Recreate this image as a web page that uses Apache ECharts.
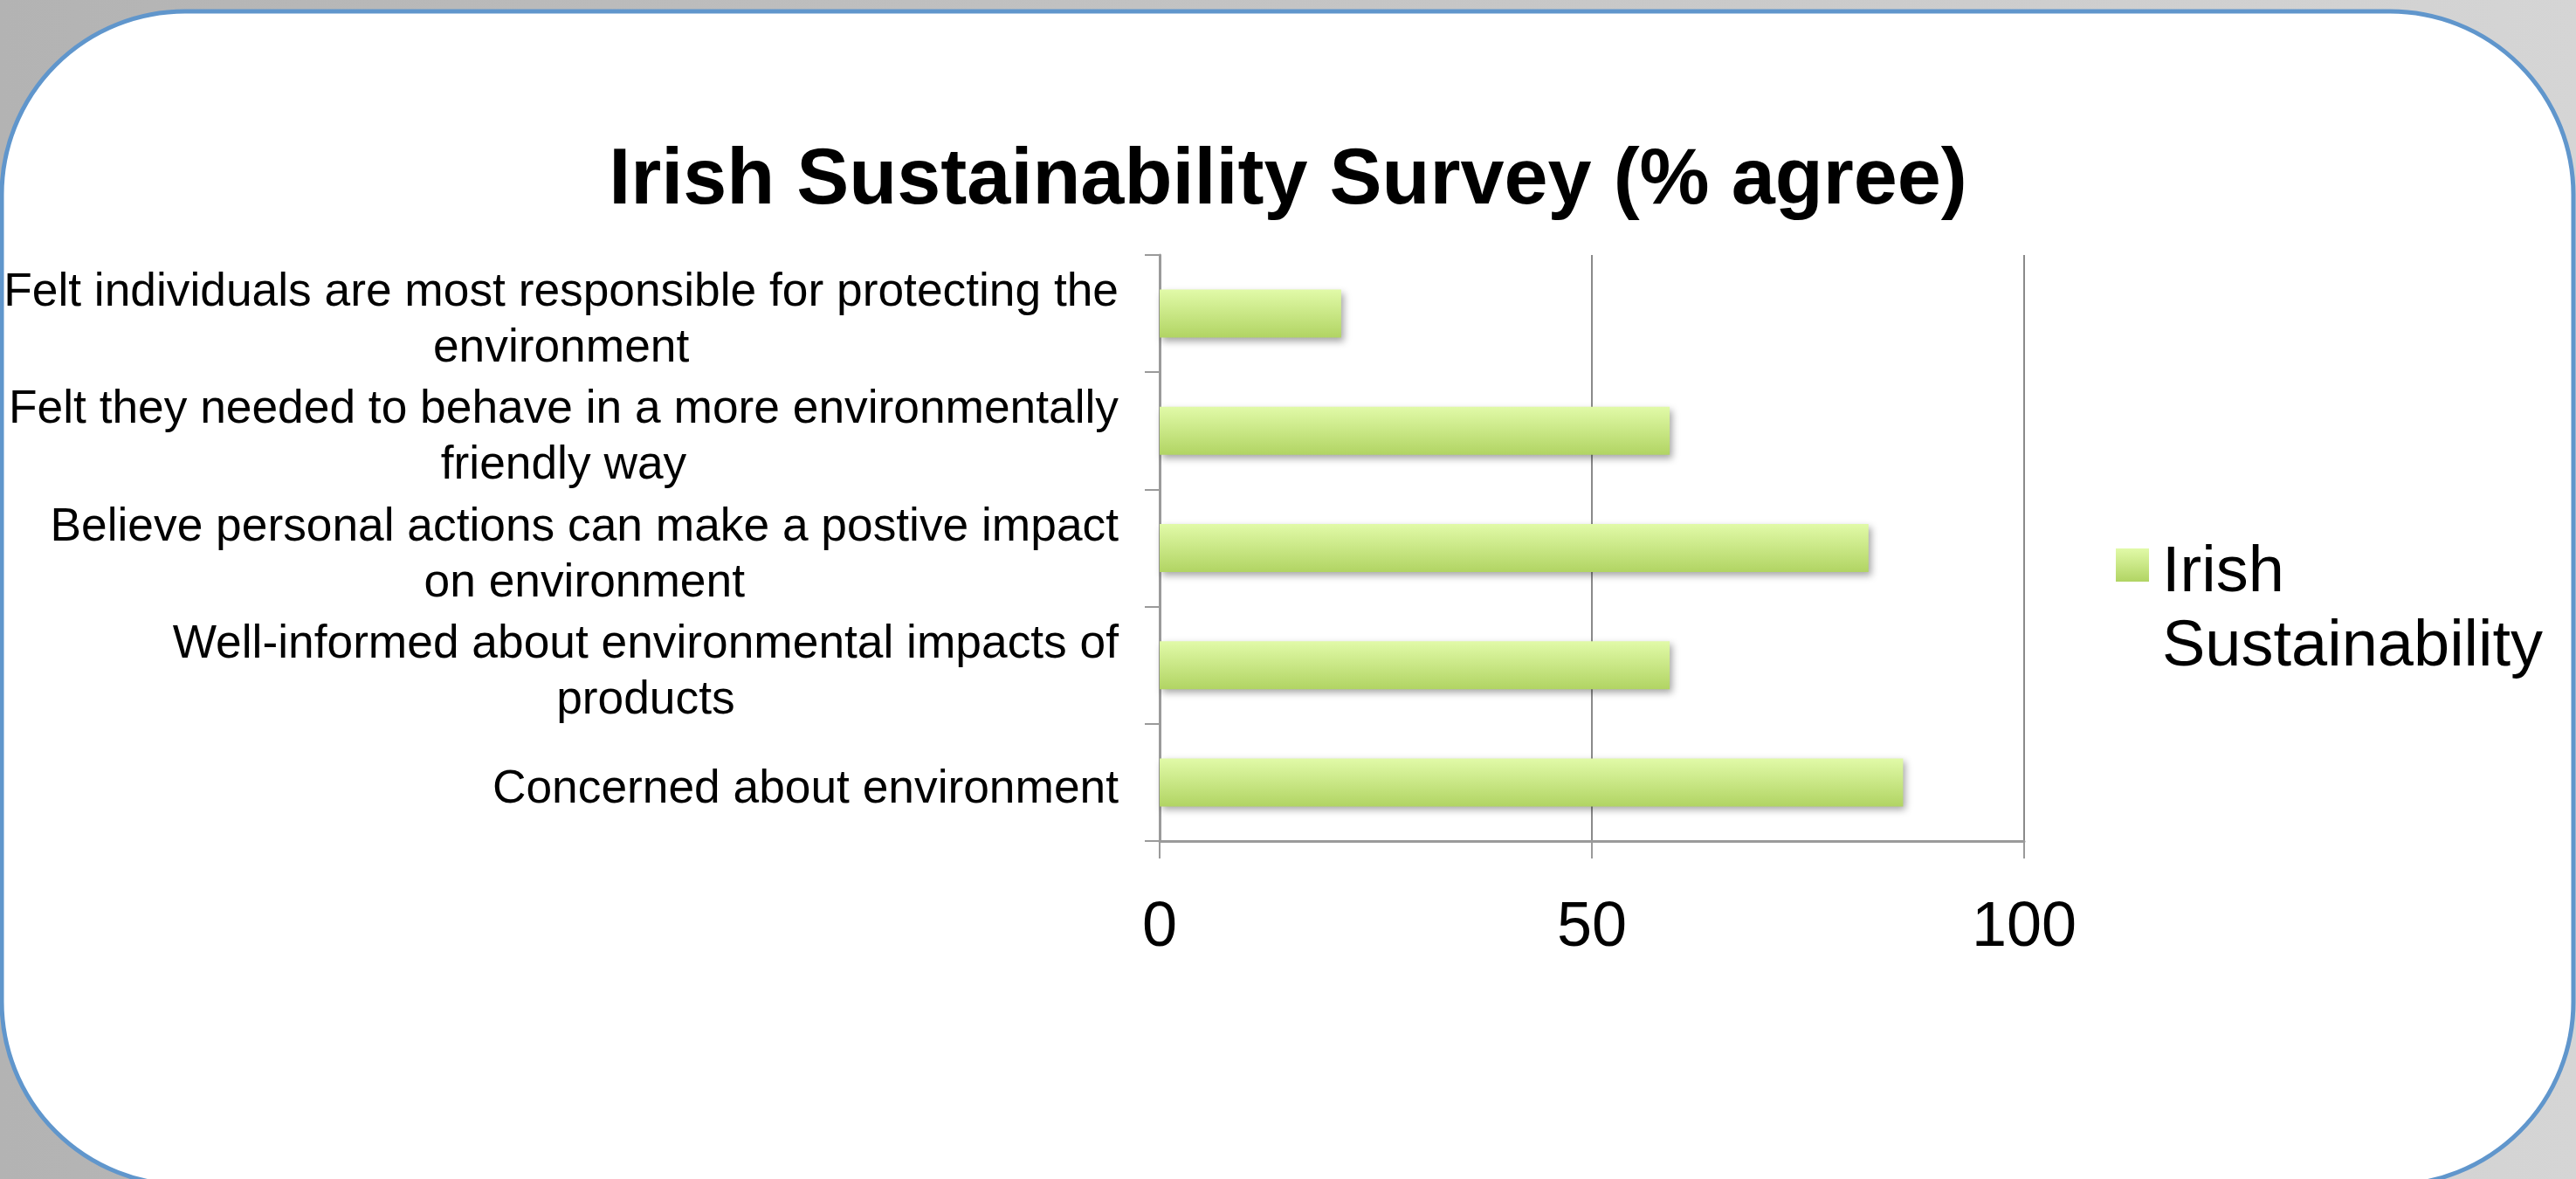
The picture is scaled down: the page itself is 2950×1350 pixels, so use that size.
<!DOCTYPE html>
<html>
<head>
<meta charset="utf-8">
<style>
  html, body { margin: 0; padding: 0; }
  #chart { width: 2950px; height: 1350px; }
</style>
<script src="https://cdn.jsdelivr.net/npm/echarts@6/dist/echarts.min.js"></script>
</head>
<body>
<div id="chart"></div>
<script>
// categories, top to bottom as shown
const categories = [
  'Felt individuals are most responsible for protecting the\nenvironment',
  'Felt they needed to behave in a more environmentally\nfriendly way',
  'Believe personal actions can make a postive impact\non environment',
  'Well-informed about environmental impacts of\nproducts',
  'Concerned about environment',
];
const seriesName = 'Irish Sustainability';
const agreeValues = [21, 59, 82, 59, 86];
const xTicks = [0, 50, 100];

const FONT = '"Liberation Sans", Arial, sans-serif';

const barGradient = new echarts.graphic.LinearGradient(0, 0, 0, 1, [
  { offset: 0, color: '#e1faa8' },
  { offset: 1, color: '#b1d463' },
]);

const chart = echarts.init(document.getElementById('chart'));

const option = {
  backgroundColor: new echarts.graphic.LinearGradient(0, 0, 1, 0, [
    { offset: 0, color: '#b3b3b3' },
    { offset: 1, color: '#d5d5d5' },
  ]),
  animation: false,
  graphic: [
    {
      type: 'rect',
      z: -10,
      silent: true,
      shape: { x: 2, y: 13, width: 2945, height: 1344, r: 210 },
      style: { fill: '#ffffff', stroke: '#6096cc', lineWidth: 5 },
    },
  ],
  title: {
    text: 'Irish Sustainability Survey (% agree)',
    left: 'center',
    top: 158,
    textStyle: { fontFamily: FONT, fontSize: 90, fontWeight: 'bold', color: '#000' },
  },
  legend: {
    left: 2418,
    top: 552,
    orient: 'vertical',
    icon: 'rect',
    itemWidth: 38,
    itemHeight: 38,
    data: [seriesName],
    // blank first line keeps "Irish" level with the icon
    formatter: () => '{g| }\n{t|Irish}\n{t|Sustainability}',
    textStyle: {
      padding: [0, 0, 0, 10],
      rich: {
        g: { fontSize: 10, lineHeight: 104 },
        t: { fontFamily: FONT, fontSize: 74, lineHeight: 85, color: '#000' },
      },
    },
  },
  grid: {
    left: 1328,
    right: 632,
    top: 292,
    bottom: 387,
    containLabel: false,
  },
  xAxis: {
    type: 'value',
    min: xTicks[0],
    max: xTicks[xTicks.length - 1],
    interval: xTicks[1] - xTicks[0],
    axisLine: { show: true, lineStyle: { color: '#9a9a9a', width: 3 } },
    axisTick: { show: true, length: 20, lineStyle: { color: '#9a9a9a', width: 2 } },
    splitLine: { show: true, lineStyle: { color: '#8a8a8a', width: 2 } },
    axisLabel: {
      margin: 64,
      fontFamily: FONT,
      fontSize: 72,
      color: '#000',
    },
  },
  yAxis: {
    type: 'category',
    inverse: true,
    data: categories,
    axisLine: { show: true, lineStyle: { color: '#9a9a9a', width: 3 } },
    axisTick: { show: true, length: 17, lineStyle: { color: '#9a9a9a', width: 2 } },
    axisLabel: {
      margin: 47,
      align: 'right',
      padding: [17, 0, 0, 0],
      formatter: (v) => v.split('\n').map((s) => '{c|' + s + '}').join('\n'),
      rich: {
        c: {
          align: 'center',
          fontFamily: FONT,
          fontSize: 53.3,
          lineHeight: 64,
          color: '#000',
        },
      },
    },
  },
  series: [
    {
      name: seriesName,
      type: 'bar',
      data: agreeValues,
      barWidth: 55,
      itemStyle: {
        color: barGradient,
        shadowColor: 'rgba(0,0,0,0.35)',
        shadowBlur: 8,
        shadowOffsetX: 3,
        shadowOffsetY: 4,
      },
    },
  ],
};

chart.setOption(option);
</script>
</body>
</html>
